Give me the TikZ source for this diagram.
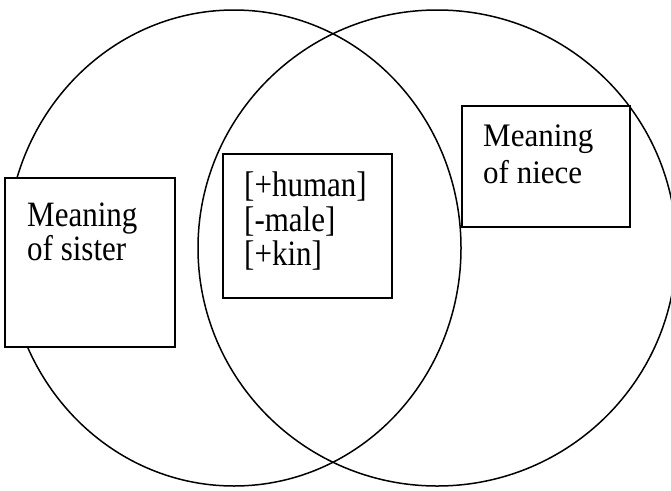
\documentclass[tikz,border=0pt]{standalone}
\usepackage{fontspec}
\usepackage{graphicx}
\setmainfont{Liberation Serif}
\newcommand{\tallA}[1]{\scalebox{1}[1.15]{#1}}
\newcommand{\tallB}[1]{\scalebox{1}[1.06]{#1}}
\begin{document}
\begin{tikzpicture}[x=1pt,y=-1pt,
  ring/.style={draw=black,line width=1.5pt},
  box/.style={draw=black,fill=white,line width=1.8pt,rectangle,inner sep=0pt},
  lbl/.style={anchor=base west,inner sep=0pt,font=\fontsize{31}{36}\selectfont}]
\useasboundingbox (0,0) rectangle (671,490);
\begin{scope}
\clip (0,0) rectangle (671,490);
\draw[ring] (234,248) ellipse [x radius=227, y radius=238];
\draw[ring] (437.2,248) ellipse [x radius=239.2, y radius=238];
\end{scope}
\node[box,minimum width=170pt,minimum height=169pt] (sister) at (90,262.5) {};
\node[box,minimum width=169pt,minimum height=144pt] (feat) at (307.5,226) {};
\node[box,minimum width=168pt,minimum height=121pt] (niece) at (546,166.5) {};
\node[lbl] (ts1) at (27,226.5) {\tallA{Meaning}};
\node[lbl] (ts2) at (27,260) {\tallA{of sister}};
\node[lbl] (tf1) at (244,196.7) {\tallA{[+human]}};
\node[lbl] (tf2) at (244,231.2) {\tallA{[-male]}};
\node[lbl] (tf3) at (244,265) {\tallA{[+kin]}};
\node[lbl] (tn1) at (483,146.7) {\tallB{Meaning}};
\node[lbl] (tn2) at (483,183) {\tallB{of niece}};
\end{tikzpicture}
\end{document}
